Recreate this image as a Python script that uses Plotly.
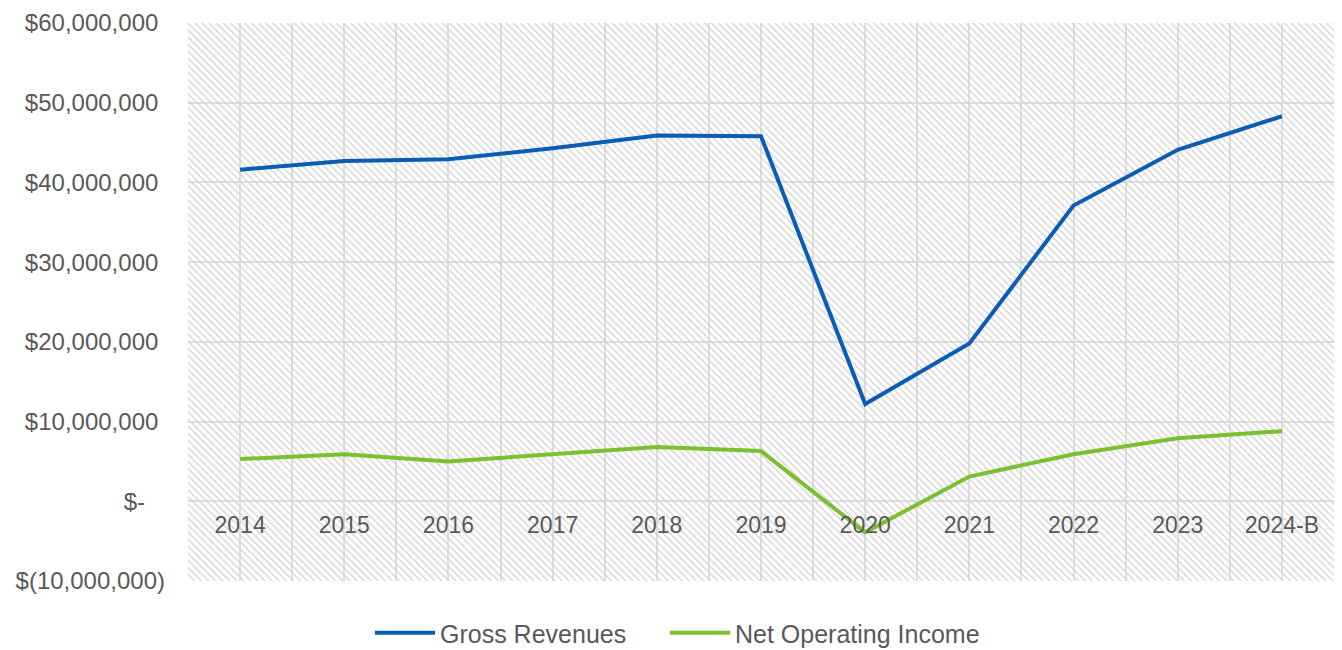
import plotly.graph_objects as go

categories = ["2014", "2015", "2016", "2017", "2018", "2019", "2020", "2021", "2022", "2023", "2024-B"]
gross_revenues = [41.6e6, 42.7e6, 42.9e6, 44.3e6, 45.9e6, 45.8e6, 12.2e6, 19.8e6, 37.1e6, 44.1e6, 48.3e6]
net_operating_income = [5.3e6, 5.9e6, 5.0e6, 5.9e6, 6.8e6, 6.3e6, -3.9e6, 3.1e6, 5.9e6, 7.9e6, 8.8e6]
y_tickvals = [-10e6, 0, 10e6, 20e6, 30e6, 40e6, 50e6, 60e6]
y_ticktext = ["$(10,000,000)", "$-\u00a0\u00a0\u00a0", "$10,000,000\u00a0", "$20,000,000\u00a0",
              "$30,000,000\u00a0", "$40,000,000\u00a0", "$50,000,000\u00a0", "$60,000,000\u00a0"]

Y_MIN, Y_MAX = -10e6, 60e6
idx = list(range(len(categories)))
n = len(categories)

FONT = "Liberation Sans, Arial, sans-serif"
TEXT = "#595959"
GRID = "#dedede"

fig = go.Figure()

# hatched plot-area background
fig.add_trace(go.Scatter(
    x=[-0.5, n - 0.5, n - 0.5, -0.5, -0.5],
    y=[Y_MIN, Y_MIN, Y_MAX, Y_MAX, Y_MIN],
    mode="lines", line=dict(width=0), fill="toself",
    fillcolor="rgba(0,0,0,0)",
    fillpattern=dict(shape="\\", fgcolor="#d0d0d0", size=5, solidity=0.25, fillmode="replace"),
    hoverinfo="skip", showlegend=False,
))

fig.add_trace(go.Scatter(
    x=idx, y=gross_revenues, name="Gross Revenues", mode="lines",
    line=dict(color="#0b5cb5", width=4, shape="linear"), legend="legend",
))
fig.add_trace(go.Scatter(
    x=idx, y=net_operating_income, name="Net Operating Income", mode="lines",
    line=dict(color="#7bc02e", width=4, shape="linear"), legend="legend2",
))

legend_common = dict(orientation="h", xref="container", xanchor="left",
                     yref="container", y=0.026, yanchor="middle",
                     font=dict(size=25, color=TEXT), itemwidth=60,
                     bgcolor="rgba(0,0,0,0)")

fig.update_layout(
    width=1342, height=650,
    margin=dict(l=188, r=8, t=23, b=69, autoexpand=False),
    paper_bgcolor="white", plot_bgcolor="white",
    font=dict(family=FONT, size=23, color=TEXT),
    showlegend=True,
    legend=dict(x=0.2757, **legend_common),
    legend2=dict(x=0.4955, **legend_common),
    xaxis=dict(
        range=[-0.5, n - 0.5], tickmode="array", tickvals=idx, ticktext=categories,
        showgrid=True, gridcolor=GRID, gridwidth=2,
        minor=dict(tickmode="linear", tick0=0.5, dtick=1, showgrid=True, gridcolor=GRID, gridwidth=2),
        zeroline=False, showline=False, ticks="",
        anchor="free", position=(0 - Y_MIN) / (Y_MAX - Y_MIN),
        ticklabelstandoff=8, automargin=False,
        tickfont=dict(size=23, color=TEXT),
    ),
    yaxis=dict(
        range=[Y_MIN, Y_MAX], tickmode="array", tickvals=y_tickvals, ticktext=y_ticktext,
        showgrid=True, gridcolor=GRID, gridwidth=2,
        zeroline=False, showline=False, ticks="",
        ticklabelstandoff=22, automargin=False,
        tickfont=dict(size=24, color=TEXT),
    ),
)

fig.write_html("out.html")
